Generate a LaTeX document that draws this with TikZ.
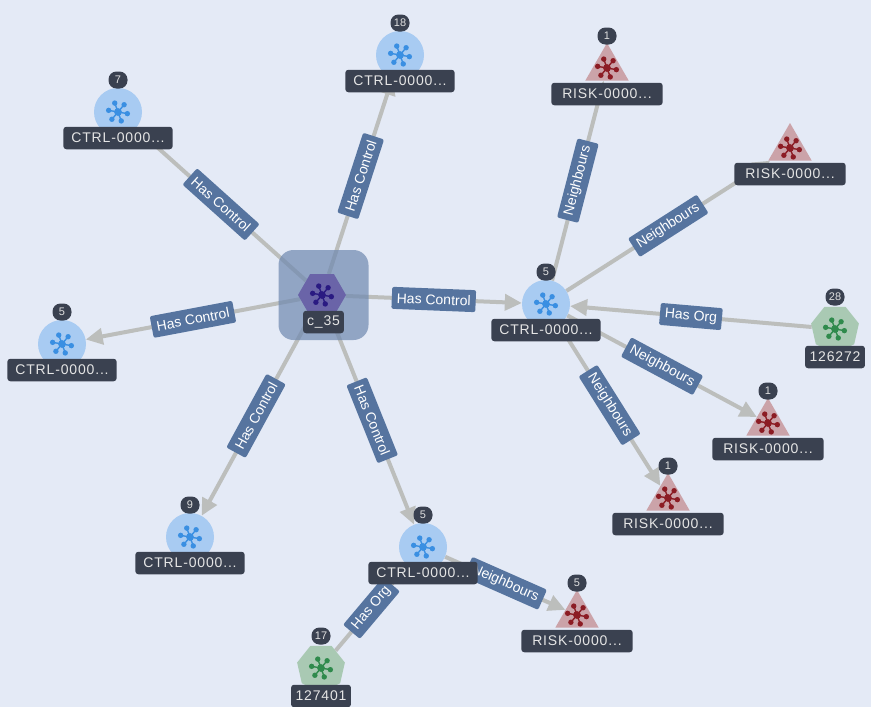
\documentclass[tikz,border=0pt]{standalone}
\usepackage{fontspec}
\setmainfont{Liberation Sans}
\newfontfamily\captionfont[LetterSpace=6]{Liberation Sans}
\usetikzlibrary{arrows.meta,shapes.geometric}
\pgfdeclarelayer{pagelayer}
\pgfdeclarelayer{edgelayer}
\pgfsetlayers{pagelayer,edgelayer,main}
\definecolor{pageColor}{HTML}{E4EAF6}
\definecolor{edgeColor}{HTML}{BCBEBC}
\definecolor{edgeTextColor}{HTML}{56749F}
\definecolor{captionColor}{HTML}{3A4150}
\definecolor{ctrlFill}{HTML}{A8CBF2}
\definecolor{ctrlIcon}{HTML}{3A8FE2}
\definecolor{riskFill}{HTML}{CBA3A9}
\definecolor{riskIcon}{HTML}{8C1C24}
\definecolor{orgFill}{HTML}{A9C9B3}
\definecolor{orgIcon}{HTML}{2F8A4C}
\definecolor{hubFill}{HTML}{6A64A8}
\definecolor{hubIcon}{HTML}{2A1A82}
\definecolor{hubBox}{HTML}{6F88B0}

\begin{document}
\begin{tikzpicture}
[x=1pt,y=-1pt,
  lineDecorate/.style={-{Triangle[length=17pt,width=16pt]},line width=4pt,draw=edgeColor},
  edgeTextDecorate/.style={fill=edgeTextColor,text=white,rounded corners=2pt,font=\fontsize{14}{16}\selectfont,
    inner xsep=5pt,inner ysep=0pt,minimum height=22pt,sloped,midway},
  ctrlDecorate/.style={shape=circle,minimum size=48pt,inner sep=0pt,fill=ctrlFill},
  riskDecorate/.style={shape=regular polygon,regular polygon sides=3,minimum size=50pt,inner sep=0pt,fill=riskFill},
  orgDecorate/.style={shape=regular polygon,regular polygon sides=7,shape border rotate=180,minimum size=49pt,inner sep=0pt,fill=orgFill},
  hubDecorate/.style={shape=regular polygon,regular polygon sides=6,minimum size=48pt,inner sep=0pt,fill=hubFill},
  captionDecorate/.style={fill=captionColor,text=white!90!black,rounded corners=3pt,font=\captionfont\fontsize{14}{16}\selectfont,
    inner xsep=8pt,inner ysep=0pt,minimum height=22.5pt},
  countDecorate/.style={fill=captionColor,text=white!88!black,rounded corners=8pt,font=\fontsize{11}{13}\selectfont,
    inner xsep=3pt,inner ysep=0pt,minimum height=17pt,minimum width=19pt},
  netIcon/.pic={
    \foreach \ang in {10,70,130,190,250,310}
    {
      \draw[#1,line width=1.4pt] (0,0) -- (\ang:9.5);
      \fill[#1] (\ang:9.5) circle (2.7pt);
    }
    \fill[#1] (0,0) circle (3.9pt);
  }]
\begin{pgfonlayer}{pagelayer}
\fill[pageColor] (0,0) rectangle (871,707);
\end{pgfonlayer}
\useasboundingbox (0,0) rectangle (871,707);
%% hub
\node (hubbox) at (323.5,295) [fill=hubBox,fill opacity=0.7,rounded corners=15pt,minimum size=90pt,inner sep=0pt] {};
\node (c35) at (322,295) [hubDecorate] {};
\pic at (322,295) {netIcon=hubIcon};
\node (c35text) at (323.5,322) [captionDecorate,inner xsep=4pt] {c\_35};
%% nodes or vertices
\foreach \nodename/\x/\y in {
  ctrlA/118/112,
  ctrlB/400/55,
  ctrlC/62/344,
  ctrlD/190/537,
  ctrlE/423/547,
  ctrlF/546/304}
{
  \node (\nodename) at (\x,\y) [ctrlDecorate] {};
  \pic at (\x,\y) {netIcon=ctrlIcon};
  \node (\nodename text) at (\x,\y) [captionDecorate,yshift=-26pt] {CTRL-0000...};
}
\foreach \nodename/\x/\y in {
  riskA/607/68,
  riskB/790/148,
  riskC/768/423,
  riskD/668/498,
  riskE/577/615}
{
  \node (\nodename) at (\x,\y) [riskDecorate] {};
  \pic at (\x,\y) {netIcon=riskIcon};
  \node (\nodename text) at (\x,\y) [captionDecorate,yshift=-26pt,inner xsep=11pt] {RISK-0000...};
}
\foreach \nodename/\x/\y/\orgname in {
  orgA/835/329/126272,
  orgB/321/668/127401}
{
  \node (\nodename) at (\x,\y) [orgDecorate] {};
  \pic at (\x,\y) {netIcon=orgIcon};
  \node (\nodename text) at (\x,\y) [captionDecorate,yshift=-28pt,inner xsep=4.5pt] {\orgname};
}
%% counts
\foreach \nodename/\count in {
  ctrlA/7, ctrlB/18, ctrlC/5, ctrlD/9, ctrlE/5, ctrlF/5,
  riskA/1, riskC/1, riskD/1, riskE/5, orgA/28, orgB/17}
{
  \node (\nodename count) at (\nodename.center) [countDecorate,yshift=32pt] {\count};
}
%% edges or lines
\begin{pgfonlayer}{edgelayer}
\foreach \startnode/\endnode/\edgename in {
  c35/ctrlA/Has Control,
  c35/ctrlB/Has Control,
  c35/ctrlC/Has Control,
  c35/ctrlD/Has Control,
  c35/ctrlE/Has Control,
  c35/ctrlF/Has Control,
  ctrlF/riskA/Neighbours,
  ctrlF/riskB/Neighbours,
  ctrlF/riskC/Neighbours,
  ctrlF/riskD/Neighbours,
  ctrlE/riskE/Neighbours,
  orgA/ctrlF/Has Org,
  orgB/ctrlE/Has Org}
{
  \draw[lineDecorate] (\startnode) -- (\endnode) node[edgeTextDecorate] {\edgename};
}
\end{pgfonlayer}
\end{tikzpicture}
\end{document}
